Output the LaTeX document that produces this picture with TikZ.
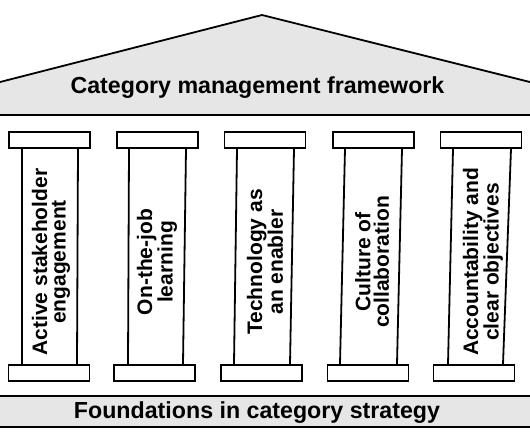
\documentclass[tikz,border=0pt]{standalone}
\usepackage{fontspec}
\setmainfont{Liberation Sans}
\definecolor{bandgray}{HTML}{E6E6E6}
\begin{document}
\begin{tikzpicture}[x=1pt,y=1pt,
  outline/.style={line width=1.8pt, line join=miter},
  slab/.style={draw, line width=1.8pt, fill=white, inner sep=0pt, minimum width=81pt, minimum height=16pt},
  ptext/.style={rotate=90, align=center, inner sep=0pt, font=\fontsize{21}{18.5}\selectfont\bfseries},
  btext/.style={anchor=base, inner sep=0pt, font=\fontsize{23.2}{26}\selectfont\bfseries}
]
\useasboundingbox (0,0) rectangle (530,442);
\fill[white] (0,0) rectangle (530,442);
% roof
\coordinate (rl) at (-5,358.7);
\coordinate (apex) at (262,427);
\coordinate (rr) at (535,358.7);
\fill[bandgray] (rl) -- (apex) -- (rr) -- (535,327) -- (-5,327) -- cycle;
\draw[outline] (rl) -- (apex) -- (rr);
\draw[line width=2.4pt] (-5,327) -- (535,327);
\node[btext] (roof) at (257.5,348) {Category management framework};
% foundation
\fill[bandgray] (-5,46) rectangle (535,15);
\draw[line width=2.2pt] (-5,46) -- (535,46);
\draw[line width=2.2pt] (-5,15) -- (535,15);
\node[btext] (found) at (257,24) {Foundations in category strategy};
% pillars: shafts
\foreach \i/\tl/\tr/\bl/\br in {1/22/78/22/77, 2/129/186/128/183, 3/237/294/234/290, 4/345/402/340/397, 5/453/511/448/503}{
  \coordinate (tl\i) at (\tl,293);
  \coordinate (tr\i) at (\tr,293);
  \coordinate (bl\i) at (\bl,78);
  \coordinate (br\i) at (\br,78);
  \fill[white] (tl\i) -- (tr\i) -- (br\i) -- (bl\i) -- cycle;
  \draw[outline] (tl\i) -- (bl\i);
  \draw[outline] (tr\i) -- (br\i);
}
% capitals
\node[slab] (c1) at (49.5,302) {};
\node[slab] (c2) at (157.5,302) {};
\node[slab] (c3) at (265,302) {};
\node[slab] (c4) at (373.5,302) {};
\node[slab] (c5) at (481,302) {};
% bases
\node[slab] (b1) at (49,69) {};
\node[slab] (b2) at (154.5,69) {};
\node[slab] (b3) at (261.5,69) {};
\node[slab] (b4) at (368,69) {};
\node[slab] (b5) at (474,69) {};
% pillar texts
\node[ptext] (t1) at (51,180) {Active stakeholder\\engagement};
\node[ptext] (t2) at (157,180) {On-the-job\\learning};
\node[ptext] (t3) at (265,180) {Technology as\\an enabler};
\node[ptext] (t4) at (372,180) {Culture of\\collaboration};
\node[ptext] (t5) at (483,180) {Accountability and\\clear objectives};
\end{tikzpicture}
\end{document}
